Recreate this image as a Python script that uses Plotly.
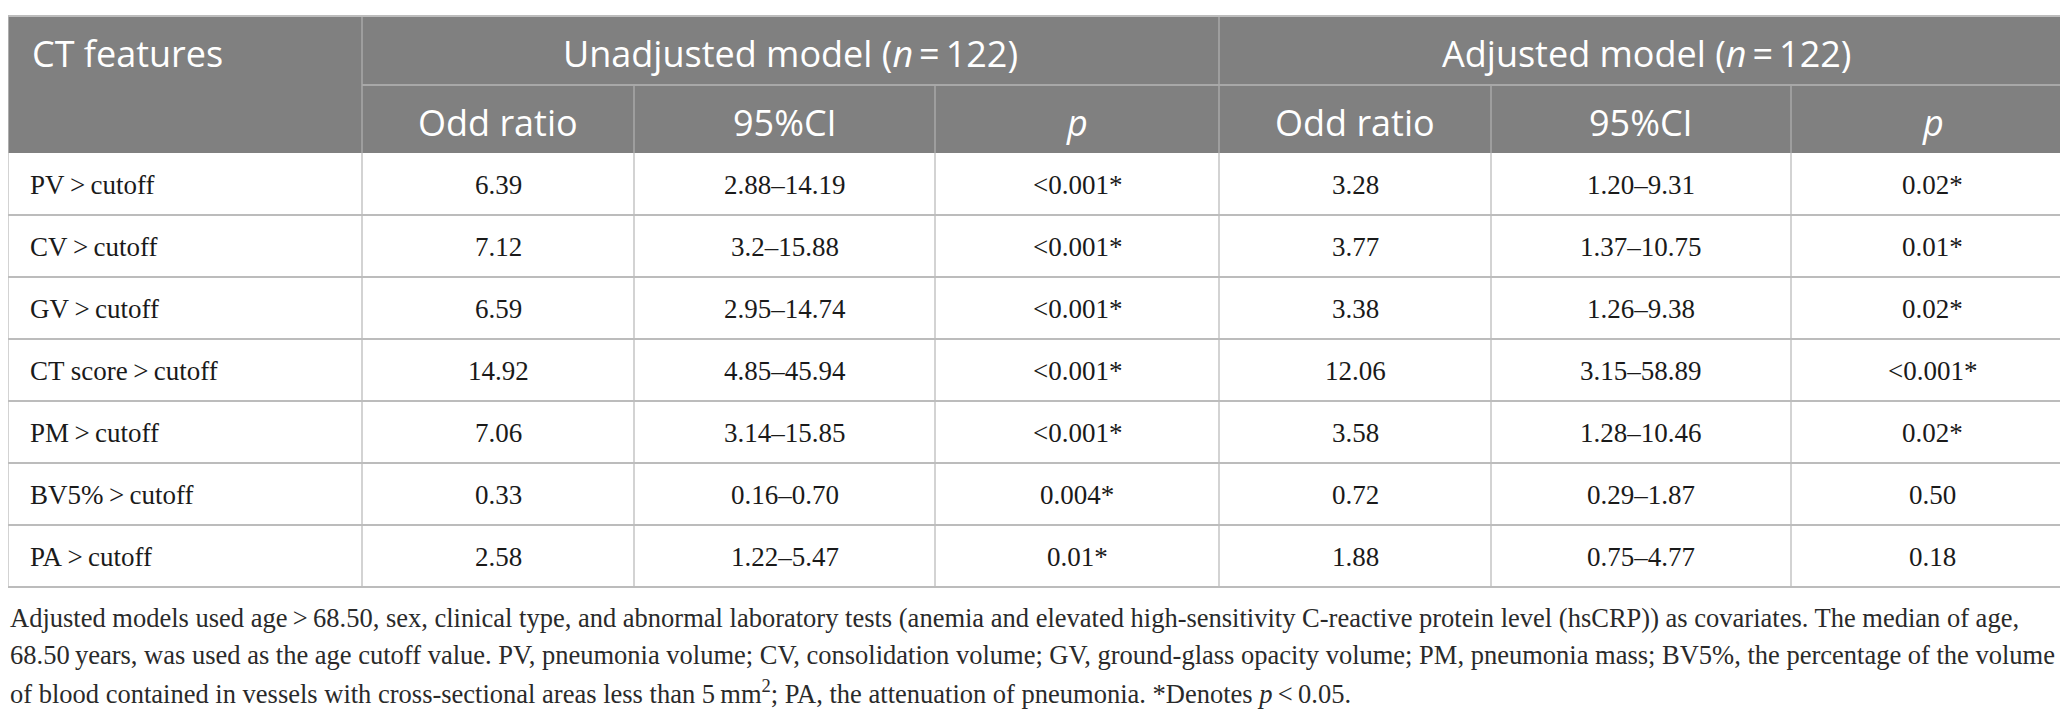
import plotly.graph_objects as go

# table contents
features = ["PV\u2009>\u2009cutoff", "CV\u2009>\u2009cutoff", "GV\u2009>\u2009cutoff",
            "CT score\u2009>\u2009cutoff", "PM\u2009>\u2009cutoff",
            "BV5%\u2009>\u2009cutoff", "PA\u2009>\u2009cutoff"]
unadj_or = ["6.39", "7.12", "6.59", "14.92", "7.06", "0.33", "2.58"]
unadj_ci = ["2.88–14.19", "3.2–15.88", "2.95–14.74", "4.85–45.94",
            "3.14–15.85", "0.16–0.70", "1.22–5.47"]
unadj_p = ["<0.001*", "<0.001*", "<0.001*", "<0.001*", "<0.001*", "0.004*", "0.01*"]
adj_or = ["3.28", "3.77", "3.38", "12.06", "3.58", "0.72", "1.88"]
adj_ci = ["1.20–9.31", "1.37–10.75", "1.26–9.38", "3.15–58.89",
          "1.28–10.46", "0.29–1.87", "0.75–4.77"]
adj_p = ["0.02*", "0.01*", "0.02*", "<0.001*", "0.02*", "0.50", "0.18"]

group_labels = ["Unadjusted model (<i>n</i>\u2009=\u2009122)",
                "Adjusted model (<i>n</i>\u2009=\u2009122)"]
sub_labels = ["Odd ratio", "95%CI", "<i>p</i>"]

footnote_lines = [
    "Adjusted models used age\u2009>\u200968.50, sex, clinical type, and abnormal laboratory tests "
    "(anemia and elevated high-sensitivity C-reactive protein level (hsCRP)) as covariates. The median of age,",
    "68.50\u2009years, was used as the age cutoff value. PV, pneumonia volume; CV, consolidation volume; "
    "GV, ground-glass opacity volume; PM, pneumonia mass; BV5%, the percentage of the volume",
    "of blood contained in vessels with cross-sectional areas less than 5\u2009mm<sup>2</sup>; "
    "PA, the attenuation of pneumonia. *Denotes <i>p</i>\u2009&lt;\u20090.05.",
]

# geometry (pixels)
W, H = 2068, 713
col_x = [0, 354, 626, 927, 1211, 1483, 1783, 2066]
y_top, y_h1, y_h2 = 8, 77, 145
row_h = 62
n_rows = len(features)
y_bottom = y_h2 + row_h * n_rows

HEAD_BG = "#808080"
HEAD_LINE = "#a8a8a8"
GRID = "#c4c4c4"
TXT = "#1a1a1a"
SANS = "Open Sans"
SERIF = "Liberation Serif"

fig = go.Figure()
shapes = []
ann = []

# header background
shapes.append(dict(type="rect", x0=col_x[0], x1=col_x[-1], y0=y_top, y1=y_h2,
                   fillcolor=HEAD_BG, line=dict(width=0), layer="below"))

# header lines
shapes.append(dict(type="line", x0=col_x[1], x1=col_x[-1], y0=y_h1, y1=y_h1,
                   line=dict(color=HEAD_LINE, width=2)))
for cx in [col_x[1], col_x[4]]:
    shapes.append(dict(type="line", x0=cx, x1=cx, y0=y_top, y1=y_h2,
                       line=dict(color=HEAD_LINE, width=1.5)))
for cx in [col_x[2], col_x[3], col_x[5], col_x[6]]:
    shapes.append(dict(type="line", x0=cx, x1=cx, y0=y_h1, y1=y_h2,
                       line=dict(color=HEAD_LINE, width=1.5)))

# outer top border
shapes.append(dict(type="line", x0=col_x[0], x1=col_x[-1], y0=y_top, y1=y_top,
                   line=dict(color="#bdbdbd", width=2)))

# body grid
for cx in col_x:
    shapes.append(dict(type="line", x0=cx, x1=cx, y0=y_h2, y1=y_bottom,
                       line=dict(color=GRID, width=1.5)))
for r in range(1, n_rows + 1):
    yy = y_h2 + r * row_h
    shapes.append(dict(type="line", x0=col_x[0], x1=col_x[-1], y0=yy, y1=yy,
                       line=dict(color="#bcbcbc", width=2)))
for cx in [col_x[0], col_x[-1]]:
    shapes.append(dict(type="line", x0=cx, x1=cx, y0=y_top, y1=y_h2,
                       line=dict(color="#bdbdbd", width=1.5)))

# header text
ann.append(dict(x=22, y=(y_top + y_h1) / 2 + 3, text="CT features", xanchor="left",
                font=dict(family=SANS, size=36, color="white")))
for g, lab in enumerate(group_labels):
    x0, x1 = col_x[1 + 3 * g], col_x[4 + 3 * g]
    ann.append(dict(x=(x0 + x1) / 2, y=(y_top + y_h1) / 2 + 3, text=lab,
                    font=dict(family=SANS, size=36, color="white")))
    for k, s in enumerate(sub_labels):
        c = 1 + 3 * g + k
        ann.append(dict(x=(col_x[c] + col_x[c + 1]) / 2, y=(y_h1 + y_h2) / 2 + 3, text=s,
                        font=dict(family=SANS, size=36, color="white")))

# body text
columns = [unadj_or, unadj_ci, unadj_p, adj_or, adj_ci, adj_p]
for i in range(n_rows):
    yc = y_h2 + row_h * (i + 0.5) + 1
    ann.append(dict(x=20, y=yc, text=features[i].replace(">", "&gt;"), xanchor="left",
                    font=dict(family=SERIF, size=27, color=TXT)))
    for c, vals in enumerate(columns, start=1):
        ann.append(dict(x=(col_x[c] + col_x[c + 1]) / 2, y=yc, text=vals[i].replace("<", "&lt;"),
                        font=dict(family=SERIF, size=27, color=TXT)))

# footnote
for j, line in enumerate(footnote_lines):
    ann.append(dict(x=0, y=610 + 37 * j, text=line.replace("\u2009>\u2009", "\u2009&gt;\u2009"),
                    xanchor="left", font=dict(family=SERIF, size=26.5, color="#2a2a2a")))

for a in ann:
    a.update(xref="x", yref="y", showarrow=False, yanchor="middle")

fig.update_layout(
    width=W, height=H,
    margin=dict(l=0, r=0, t=0, b=0),
    paper_bgcolor="white", plot_bgcolor="white",
    shapes=shapes, annotations=ann,
    showlegend=False,
)
fig.update_xaxes(range=[0, W], visible=False, fixedrange=True)
fig.update_yaxes(range=[H, 0], visible=False, fixedrange=True)

fig.write_html("out.html")
